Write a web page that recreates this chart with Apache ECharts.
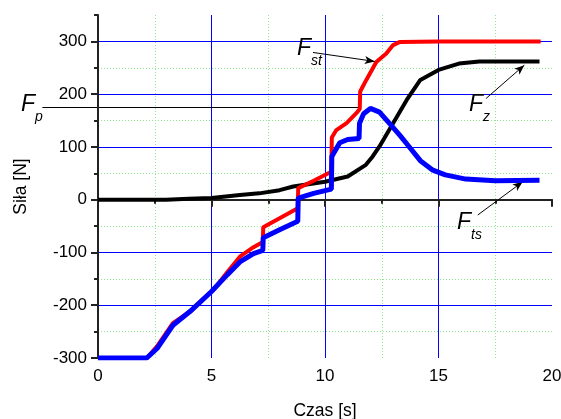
<!DOCTYPE html>
<html><head><meta charset="utf-8">
<script src="https://cdn.jsdelivr.net/npm/echarts@6/dist/echarts.min.js"></script>
<style>html,body{margin:0;padding:0;background:#fff}#c{width:561px;height:419px}</style>
</head><body><div id="c"></div>
<script>
// ---- data (time [s], force [N]) ----
const xMin = 0, xMax = 20, xStep = 5, xMinorStep = 2.5;
const yMin = -300, yMax = 350, yStep = 100, yMinorStep = 50;

const fst = [[0,-300],[2.15,-300],[2.6,-278],[3.3,-234],[4.05,-212],[4.65,-188],[5.1,-170],[5.7,-137],[6.25,-108],[6.85,-90],[7.26,-80],[7.28,-52],[8.0,-35],[8.8,-16],[8.82,22],[9.5,36],[10.28,53],[10.3,118],[10.5,132],[10.95,145],[11.38,164],[11.53,172],[11.55,205],[11.82,227],[12.26,261],[12.7,277],[13.0,293],[13.3,299],[15,300],[17,300],[19.5,300]];
const fts = [[0,-300],[2.15,-300],[2.6,-282],[3.3,-238],[4.05,-212],[5.0,-174],[5.7,-142],[6.25,-118],[6.85,-102],[7.26,-96],[7.28,-72],[8.0,-57],[8.8,-41],[8.82,3],[9.5,12],[10.28,20],[10.3,82],[10.65,108],[11.0,114],[11.5,116],[11.52,145],[11.7,163],[12.0,173],[12.4,166],[12.85,144],[13.3,122],[13.6,106],[14.2,74],[14.75,56],[15.3,47],[16.2,39],[17.5,36],[19.45,37]];
const fz = [[0,0],[3,0],[4,2],[5,3],[6.25,9],[7.1,12],[8,18],[8.6,25],[10,34],[11,44],[11.8,66],[12.1,82],[12.4,101],[13,145],[13.6,189],[14.2,227],[15,246],[15.9,258],[16.8,262],[19.45,262]];
const fpValue = 176, fpStartT = -2.45, fpEndT = 11.55;

// annotation arrows [from, to] in data coordinates
const arrowFst = [[9.47,279],[12.19,262]];
const arrowFz  = [[17.1,192],[18.78,255]];
const arrowFts = [[16.73,-29],[18.71,34]];

const xName = 'Czas [s]', yName = 'Siła [N]';

const chart = echarts.init(document.getElementById('c'), null, {renderer:'canvas'});
const axisCol = '#222';
const font = 'Arial, "Liberation Sans", sans-serif';

function mk(arr){ return arr.map(p => ({coord:p})); }

chart.setOption({
  animation:false,
  backgroundColor:'#fff',
  grid:{left:98, right:9, top:15, bottom:61, containLabel:false, outerBoundsMode:'none'},
  xAxis:[
    {type:'value', min:xMin, max:xMax, interval:xStep, z:1,
     name:xName, nameLocation:'middle', nameGap:44,
     nameTextStyle:{fontSize:17.5, color:'#000', fontFamily:font},
     axisLine:{lineStyle:{color:axisCol, width:2}},
     axisTick:{length:7, lineStyle:{color:axisCol, width:2}},
     axisLabel:{fontSize:17, color:'#000', fontFamily:font, margin:10},
     splitLine:{show:true, showMinLine:false, showMaxLine:false, lineStyle:{color:'#0000ff', width:1}}},
    {type:'value', min:xMin, max:xMax, interval:xMinorStep, position:'bottom', z:0,
     axisLine:{show:false},
     axisTick:{length:4, lineStyle:{color:axisCol, width:2}},
     axisLabel:{show:false},
     splitLine:{show:true, showMinLine:false, showMaxLine:false, lineStyle:{color:'#90e890', width:1, type:[1,2]}}}
  ],
  yAxis:[
    {type:'value', min:yMin, max:yMax, interval:yStep, z:1,
     name:yName, nameLocation:'middle', nameGap:68,
     nameTextStyle:{fontSize:17.5, color:'#000', fontFamily:font},
     axisLine:{lineStyle:{color:axisCol, width:2}},
     axisTick:{length:7, lineStyle:{color:axisCol, width:2}},
     axisLabel:{fontSize:17, color:'#000', fontFamily:font, margin:11, showMaxLabel:false},
     splitLine:{show:true, showMinLine:false, showMaxLine:false, lineStyle:{color:'#0000ff', width:1}}},
    {type:'value', min:yMin, max:yMax, interval:yMinorStep, position:'left', z:0,
     axisLine:{show:false},
     axisTick:{length:4, lineStyle:{color:axisCol, width:2}},
     axisLabel:{show:false},
     splitLine:{show:true, showMinLine:false, showMaxLine:false, lineStyle:{color:'#90e890', width:1, type:[1,2]}}}
  ],
  series:[
    {name:'Fz', type:'line', data:fz, symbol:'none', xAxisIndex:0, yAxisIndex:0,
     lineStyle:{color:'#000', width:4}, z:3,
     markLine:{silent:true, symbol:['none','arrow'], symbolSize:[6,10],
       lineStyle:{color:'#000', width:1, type:'solid'}, label:{show:false},
       data:[mk(arrowFst), mk(arrowFz), mk(arrowFts)]}},
    {name:'Fst', type:'line', data:fst, symbol:'none', xAxisIndex:0, yAxisIndex:0,
     lineStyle:{color:'#ff0000', width:4}, z:4},
    {name:'Fts', type:'line', data:fts, symbol:'none', xAxisIndex:0, yAxisIndex:0,
     lineStyle:{color:'#0000ff', width:5}, z:5}
  ]
});

// Fp reference line and labels
const ax = {xAxisIndex:0, yAxisIndex:0};
const p0 = chart.convertToPixel(ax, [fpStartT, fpValue]);
const p1 = chart.convertToPixel(ax, [fpEndT, fpValue]);
function lab(F, sub, x, y){
  return [
    {type:'text', x:x, y:y, z:10, style:{text:F, fontSize:23, fontStyle:'italic', fontFamily:font, fill:'#000', verticalAlign:'middle', align:'left'}},
    {type:'text', x:x+14, y:y+12, z:10, style:{text:sub, fontSize:14, fontStyle:'italic', fontFamily:font, fill:'#000', verticalAlign:'middle', align:'left'}}
  ];
}
chart.setOption({graphic:[
  {type:'line', z:1, shape:{x1:p0[0], y1:Math.round(p0[1])+0.5, x2:p1[0], y2:Math.round(p1[1])+0.5}, style:{stroke:'#000', lineWidth:1}},
  ...lab('F','p',21,105),
  ...lab('F','st',297,49),
  ...lab('F','z',469,105),
  ...lab('F','ts',457,223)
]});
</script></body></html>
